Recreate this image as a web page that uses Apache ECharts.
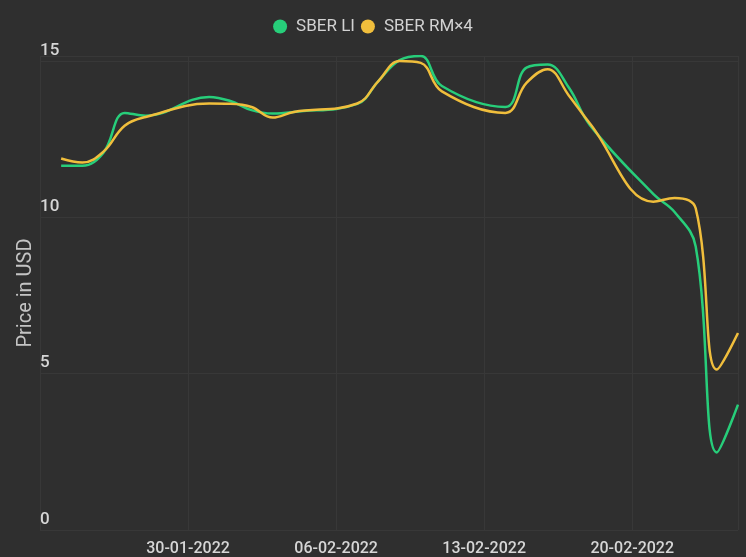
<!DOCTYPE html>
<html>
<head>
<meta charset="utf-8">
<style>
  html, body { margin: 0; padding: 0; background: #2f2f2f; }
  #chart { width: 746px; height: 557px; }
</style>
<script src="https://cdn.jsdelivr.net/npm/echarts@6/dist/echarts.min.js"></script>
</head>
<body>
<div id="chart"></div>
<script>
// trading days shown on the chart
var dates = [
  '24-01-2022', '25-01-2022', '26-01-2022', '27-01-2022', '28-01-2022',
  '31-01-2022', '01-02-2022', '02-02-2022', '03-02-2022', '04-02-2022',
  '07-02-2022', '08-02-2022', '09-02-2022', '10-02-2022', '11-02-2022',
  '14-02-2022', '15-02-2022', '16-02-2022', '17-02-2022', '18-02-2022',
  '21-02-2022', '22-02-2022', '23-02-2022', '24-02-2022', '25-02-2022'
];
var sberLI = [
  11.65, 11.65, 12.07, 13.34, 13.25,
  13.85, 13.72, 13.43, 13.32, 13.37,
  13.63, 14.36, 15.03, 15.16, 14.2,
  13.53, 14.79, 14.89, 14.15, 12.95,
  10.74, 10.17, 9.07, 2.48, 4.01
];
var sberRM4 = [
  11.88, 11.75, 12.1, 12.93, 13.21,
  13.64, 13.63, 13.53, 13.19, 13.37,
  13.64, 14.36, 15.0, 14.94, 14.03,
  13.34, 14.3, 14.74, 13.9, 13.0,
  10.5, 10.62, 10.29, 5.13, 6.3
];
var axisStart = '23-01-2022';
var axisEnd = '25-02-2022';
var yTicks = [0, 5, 10, 15];

var DAY = 86400000;
function toTime(s) {
  var p = s.split('-');
  return Date.UTC(+p[2], +p[1] - 1, +p[0]);
}
function pad(n) { return n < 10 ? '0' + n : '' + n; }
var t0 = toTime(axisStart);
function dayIndex(s) { return Math.round((toTime(s) - t0) / DAY); }
function dayLabel(v) {
  var d = new Date(t0 + v * DAY);
  return pad(d.getUTCDate()) + '-' + pad(d.getUTCMonth() + 1) + '-' + d.getUTCFullYear();
}

function pairs(values) {
  var out = [];
  for (var i = 0; i < dates.length; i++) {
    out.push([dayIndex(dates[i]), values[i]]);
  }
  return out;
}

var chart = echarts.init(document.getElementById('chart'));

var option = {
  backgroundColor: '#2f2f2f',
  animation: false,
  textStyle: { fontFamily: 'Roboto' },
  legend: {
    top: 13,
    left: 'center',
    icon: 'circle',
    itemWidth: 22,
    itemHeight: 14,
    itemGap: 6,
    textStyle: { color: '#d2d2d2', fontSize: 17, fontFamily: 'Roboto' },
    data: ['SBER LI', 'SBER RM×4']
  },
  grid: { left: 40, right: 8, top: 56, bottom: 26, containLabel: false },
  xAxis: {
    type: 'value',
    min: 0,
    max: dayIndex(axisEnd),
    interval: 7,
    axisLine: { show: false },
    axisTick: { show: false },
    splitLine: { show: true, lineStyle: { color: '#383838', width: 1 } },
    axisLabel: {
      color: '#d6d6d6',
      fontSize: 16,
      fontWeight: 500,
      margin: 11,
      showMinLabel: false,
      showMaxLabel: false,
      formatter: function(v) { return v === 0 ? '' : dayLabel(v); }
    }
  },
  yAxis: {
    type: 'value',
    min: 0,
    max: function(v) { return v.max; },
    interval: 5,
    name: 'Price in USD',
    nameLocation: 'middle',
    nameGap: 4,
    nameMoveOverlap: false,
    nameTextStyle: { color: '#c4c4c4', fontSize: 20, fontFamily: 'Roboto' },
    axisLine: { show: false },
    axisTick: { show: false },
    splitLine: { show: true, lineStyle: { color: '#383838', width: 1 } },
    axisLabel: {
      inside: true,
      color: '#d6d6d6',
      fontSize: 17,
      fontWeight: 500,
      margin: 0,
      align: 'left',
      verticalAlign: 'bottom',
      padding: [0, 0, 2, 0],
      formatter: function(v) { return yTicks.indexOf(v) >= 0 ? String(v) : ''; }
    }
  },
  series: [{
    name: 'SBER LI',
    type: 'line',
    data: pairs(sberLI),
    smooth: 0.4,
    showSymbol: false,
    symbol: 'circle',
    color: '#27ce7a',
    lineStyle: { width: 2.5, color: '#27ce7a' },
    z: 2
  }, {
    name: 'SBER RM×4',
    type: 'line',
    data: pairs(sberRM4),
    smooth: 0.4,
    showSymbol: false,
    symbol: 'circle',
    color: '#f0be3c',
    lineStyle: { width: 2.5, color: '#f0be3c' },
    z: 3
  }]
};

chart.setOption(option);
</script>
</body>
</html>
